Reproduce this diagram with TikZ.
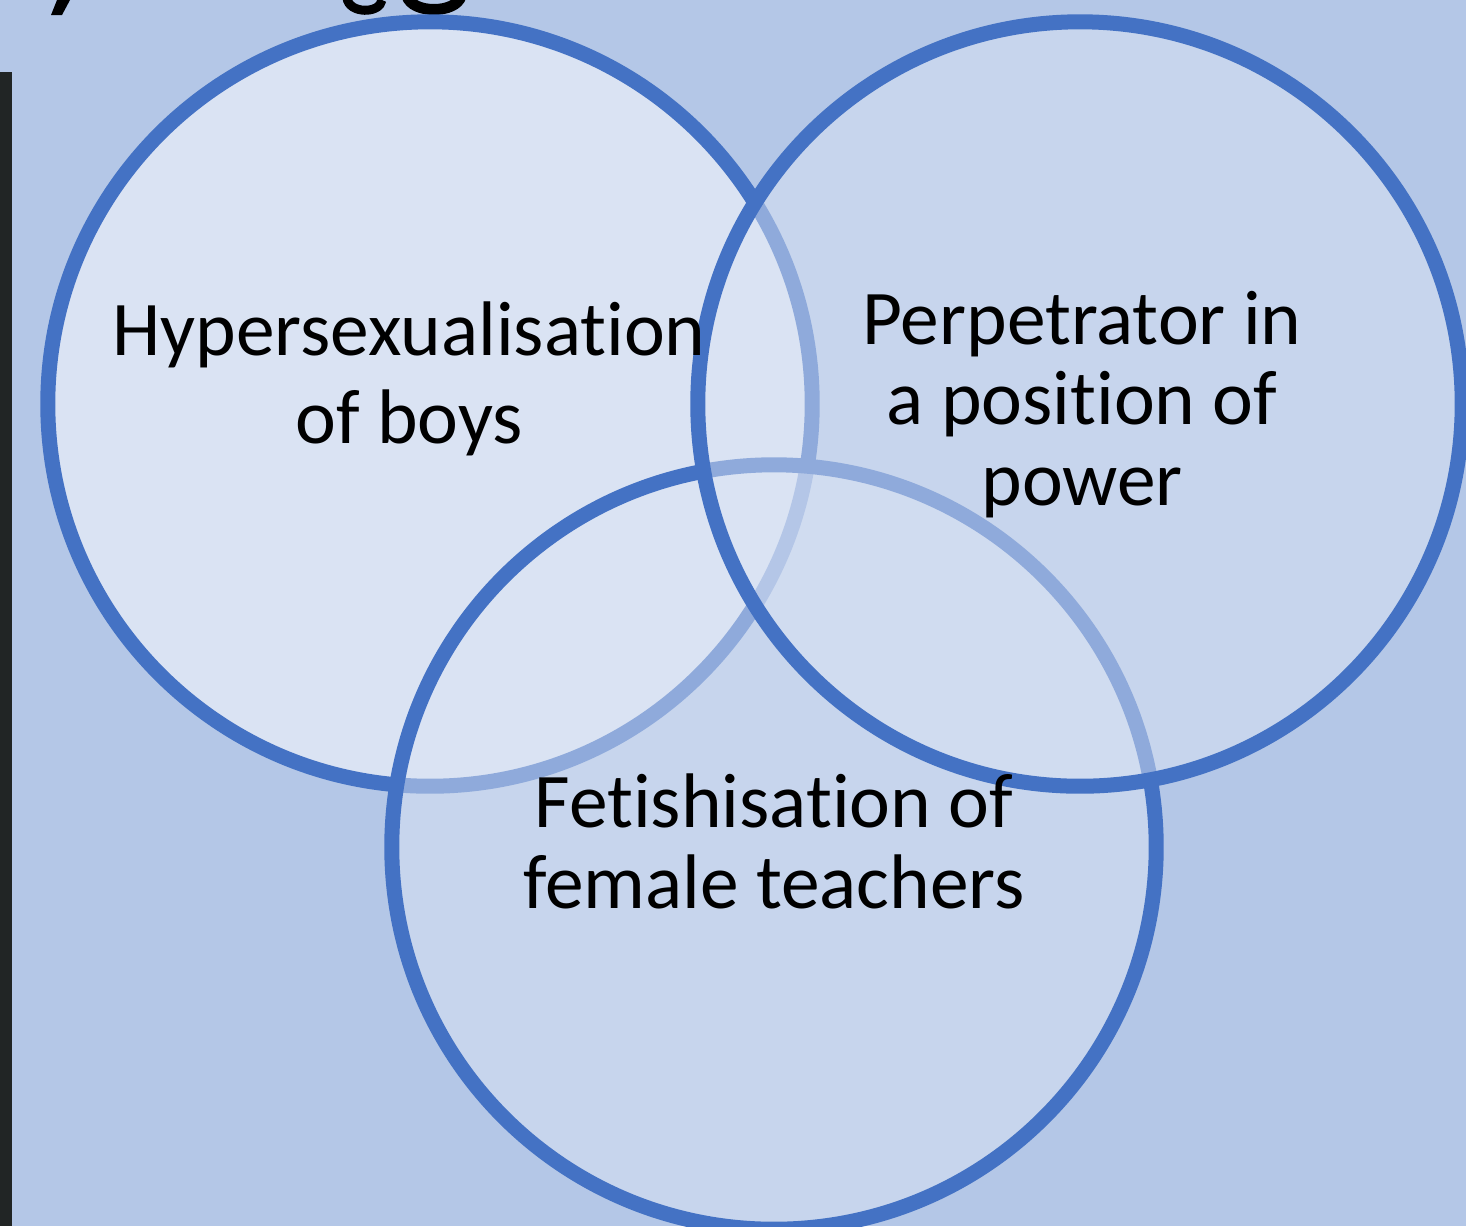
\documentclass[tikz,border=0pt]{standalone}
\usepackage{fontspec}
\setmainfont{Carlito}[Ligatures=NoCommon]
\usetikzlibrary{positioning}
\definecolor{slidebg}{HTML}{B4C7E7}
\definecolor{vennfill}{HTML}{DAE3F3}
\definecolor{vennline}{HTML}{4472C4}
\definecolor{sidebar}{HTML}{212525}

\begin{document}
\begin{tikzpicture}[x=0.01cm,y=-0.01cm]
	\tikzset{vennset/.style={circle,draw=vennline,line width=0.15cm,minimum size=7.64cm,inner sep=0pt,fill=vennfill},
		venntext/.style={align=center,inner sep=0pt,anchor=base}}
	\useasboundingbox (0,0) rectangle (1466,1226);
	\clip (0,0) rectangle (1466,1226);
	\fill[slidebg] (0,0) rectangle (1466,1226);
	\fill[sidebar] (0,72) rectangle (12,1226);
	% bits of the cut-off title
	\fill (57,0) -- (70,0) -- (62,15) -- (51,15) -- cycle;
	\draw[line width=0.09cm] (347,-2) .. controls (349,14) and (380,14) .. (382,0);
	\draw[line width=0.11cm] (407,-4) .. controls (412,14) and (456,14) .. (461,-4);
	\node[vennset] (hyper) at (430,404) {};
	\node[vennset,fill opacity=0.5] (fetish) at (774,847) {};
	\node[vennset,fill opacity=0.5] (power) at (1080,404) {};
	\node[venntext,font=\fontsize{22}{25}\selectfont] (hypertext) at (409,443) {Hypersexualisation\\of boys};
	\node[venntext,font=\fontsize{22}{22.8}\selectfont] (powertext) at (1082,505) {Perpetrator in\\a position of\\power};
	\node[venntext,font=\fontsize{22}{22.8}\selectfont] (fetishtext) at (774,908) {Fetishisation of\\female teachers};
\end{tikzpicture}
\end{document}
